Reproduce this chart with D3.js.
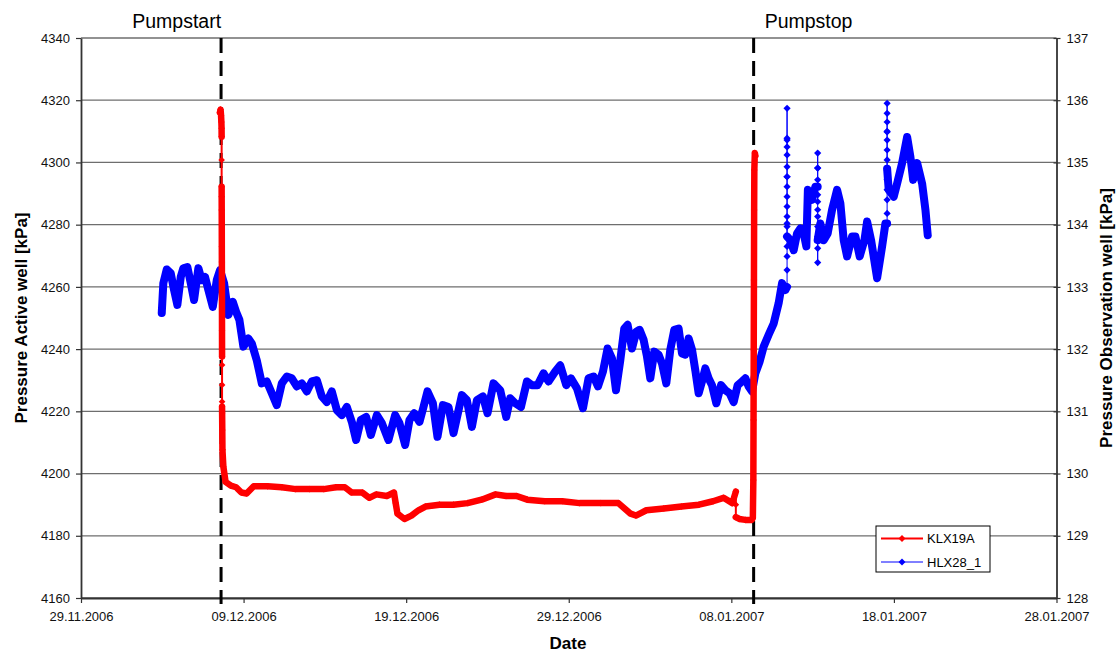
<!DOCTYPE html>
<html>
<head>
<meta charset="utf-8">
<script src="https://cdn.jsdelivr.net/npm/d3@7"></script>
<style>
  body { margin: 0; background: #fff; }
  text { font-family: "Liberation Sans", Arial, sans-serif; }
</style>
</head>
<body>
<div id="chart"></div>
<script>
// x values are days after 29.11.2006 00:00
const startDate = new Date(2006, 10, 29);
const dateTicks = ["29.11.2006", "09.12.2006", "19.12.2006", "29.12.2006", "08.01.2007", "18.01.2007", "28.01.2007"];
const activeTicks = [4160, 4180, 4200, 4220, 4240, 4260, 4280, 4300, 4320, 4340];
const obsTicks = [128, 129, 130, 131, 132, 133, 134, 135, 136, 137];

const pumpStartDay = 8.615;
const pumpStopDay = 41.372;

// HLX28_1 (observation well, right axis)
const hlxDays = [
  4.966, 5.065, 5.274, 5.52, 5.723, 5.926, 6.135, 6.295, 6.542, 6.751,
  6.954, 7.218, 7.428, 7.631, 7.834, 8.105, 8.351, 8.554, 8.8, 9.065,
  9.335, 9.538, 9.742, 9.988, 10.295, 10.505, 10.812, 11.12, 11.428, 11.735,
  12.043, 12.351, 12.658, 12.966, 13.274, 13.582, 13.889, 14.197, 14.505, 14.812,
  15.12, 15.428, 15.735, 16.043, 16.351, 16.658, 16.923, 17.212, 17.538, 17.828,
  18.197, 18.505, 18.911, 19.323, 19.588, 19.938, 20.203, 20.492, 20.818, 21.065,
  21.311, 21.643, 21.926, 22.258, 22.603, 22.911, 23.428, 23.735, 24.043, 24.351,
  24.72, 25.003, 25.372, 25.785, 26.154, 26.4, 26.708, 27.058, 27.428, 27.735,
  28.08, 28.449, 28.757, 29.169, 29.477, 29.846, 30.135, 30.505, 30.874, 31.218,
  31.526, 31.797, 32.105, 32.388, 32.658, 32.905, 33.169, 33.415, 33.618, 33.889,
  34.154, 34.357, 34.603, 34.812, 35.015, 35.262, 35.526, 35.735, 36.0, 36.246,
  36.492, 36.757, 36.966, 37.169, 37.372, 37.582, 37.785, 37.988, 38.197, 38.4,
  38.603, 38.812, 39.077, 39.366, 39.631, 39.895, 40.142, 40.388, 40.658, 40.862,
  41.065, 41.274, 41.477, 41.742, 41.988, 42.295, 42.603, 42.911, 43.12, 43.323,
  43.428, 43.428, 43.428, 43.428, 43.428, 43.428, 43.428, 43.428, 43.428, 43.428,
  43.428, 43.428, 43.428, 43.428, 43.428, 43.428, 43.428, 43.428, 43.428, 43.428,
  43.631, 43.834, 44.043, 44.246, 44.449, 44.615, 44.646, 44.708, 44.966, 45.169,
  45.311, 45.311, 45.311, 45.311, 45.311, 45.311, 45.311, 45.311, 45.311, 45.311,
  45.311, 45.311, 45.311, 45.311,
  45.477, 45.68, 45.926, 46.197, 46.505, 46.708, 46.911, 47.12, 47.428, 47.631,
  47.895, 48.185, 48.351, 48.597, 48.966, 49.274, 49.477,
  49.582, 49.582, 49.582, 49.582, 49.582, 49.582, 49.582, 49.582, 49.582, 49.582,
  49.582, 49.582, 49.582, 49.582, 49.582,
  49.68, 49.988, 50.197, 50.505, 50.812, 51.015, 51.182, 51.428, 51.735, 51.938, 52.08
];
const hlxKPa = [
  132.58, 133.06, 133.28, 133.22, 132.95, 132.71, 133.16, 133.30, 133.32, 133.06,
  132.79, 133.30, 133.11, 133.16, 132.95, 132.68, 133.11, 133.27, 133.06, 132.55,
  132.76, 132.60, 132.47, 132.04, 132.17, 132.09, 131.82, 131.45, 131.48, 131.29,
  131.10, 131.45, 131.56, 131.53, 131.40, 131.45, 131.32, 131.48, 131.50, 131.24,
  131.15, 131.32, 131.02, 130.94, 131.07, 130.83, 130.54, 130.86, 130.91, 130.62,
  130.94, 130.81, 130.54, 130.94, 130.81, 130.46, 130.86, 130.97, 130.83, 131.07,
  131.32, 131.13, 130.59, 131.10, 131.07, 130.65, 131.26, 131.18, 130.75, 131.18,
  131.24, 130.97, 131.45, 131.34, 130.91, 131.21, 131.13, 131.07, 131.48, 131.42,
  131.42, 131.61, 131.48, 131.64, 131.74, 131.42, 131.53, 131.37, 131.05, 131.53,
  131.56, 131.40, 131.64, 132.01, 131.85, 131.34, 131.82, 132.33, 132.39, 132.01,
  132.28, 132.31, 132.15, 131.88, 131.53, 131.96, 131.91, 131.77, 131.45, 131.99,
  132.31, 132.33, 131.93, 131.91, 132.17, 131.99, 131.66, 131.29, 131.48, 131.69,
  131.53, 131.42, 131.13, 131.42, 131.34, 131.29, 131.15, 131.42, 131.48, 131.53,
  131.40, 131.32, 131.61, 131.80, 132.04, 132.23, 132.41, 132.74, 133.06, 132.95,
  133.00, 133.27, 133.49, 133.65, 133.81, 133.97, 134.13, 134.29, 134.45, 134.61,
  134.77, 134.93, 135.12, 135.25, 135.39, 135.87, 135.36, 134.77, 134.02, 133.81,
  133.75, 133.59, 133.86, 133.94, 133.86, 133.65, 133.97, 134.56, 134.40, 134.61,
  134.61, 134.91, 135.15, 134.91, 134.72, 134.48, 134.37, 134.24, 134.13, 133.97,
  133.81, 133.62, 133.39, 133.75,
  134.02, 133.75, 133.86, 134.24, 134.56, 134.34, 133.75, 133.49, 133.81, 133.81,
  133.49, 133.75, 134.05, 133.75, 133.14, 133.65, 134.02,
  134.02, 134.18, 134.40, 134.56, 134.72, 134.88, 135.04, 135.20, 135.36, 135.49,
  135.65, 135.79, 135.95, 135.50, 134.90,
  134.56, 134.45, 134.66, 134.99, 135.41, 135.09, 134.72, 134.99, 134.66, 134.24, 133.83
];

// KLX19A (active well, left axis)
const klxDays = [
  8.542, 8.585, 8.615, 8.634, 8.646, 8.65, 8.65, 8.65,
  8.652, 8.655, 8.658, 8.661, 8.664, 8.667, 8.670, 8.673,
  8.676, 8.676, 8.676, 8.676, 8.676,
  8.68, 8.69, 8.70, 8.757, 8.892, 9.218, 9.538, 9.865, 10.185, 10.622,
  11.483, 12.345, 13.206, 14.068, 14.935, 15.686, 16.228, 16.658, 17.305, 17.735,
  18.166, 18.812, 19.249, 19.354, 19.465, 19.895, 20.326, 20.757, 21.188, 22.049,
  22.911, 23.778, 24.64, 25.502, 26.148, 26.794, 27.446, 28.523, 29.6, 30.677,
  31.975, 33.052, 33.803, 34.129, 34.775, 35.852, 36.935, 38.012, 38.874, 39.52,
  40.062, 40.277, 40.277, 40.277, 40.492, 40.862, 41.249,
  41.323, 41.354, 41.366, 41.378, 41.391, 41.403, 41.415, 41.446, 41.477
];
const klxKPa = [
  4316, 4317, 4315, 4313, 4311, 4308.3, 4300.8, 4292.2,
  4289, 4284.7, 4280, 4272.9, 4268, 4263.2, 4255.8, 4246.1,
  4237.6, 4234.9, 4228.5, 4223.1, 4221.5,
  4219.5, 4214, 4207.6, 4202.2, 4197.3, 4196.1, 4195.6, 4193.9, 4193.6, 4195.9,
  4195.9, 4195.6, 4195.0, 4195.0, 4195.0, 4195.6, 4195.6, 4193.9, 4193.9, 4192.2,
  4193.3, 4192.8, 4193.9, 4190.5, 4187.1, 4185.4, 4186.5, 4188.2, 4189.4, 4190.0,
  4190.0, 4190.5, 4191.6, 4193.3, 4192.8, 4192.8, 4191.6, 4191.1, 4191.1, 4190.5,
  4190.5, 4190.5, 4187.1, 4186.5, 4188.2, 4188.8, 4189.4, 4190.0, 4191.1, 4192.2,
  4190.5, 4194.2, 4190.0, 4186.0, 4185.4, 4185.1, 4185.1,
  4185.7, 4197.9, 4217.2, 4239.7, 4262.2, 4284.7, 4297.6, 4303.0, 4302.1
];

const width = 1119, height = 654;
const plotL = 81, plotR = 1056.5, plotT = 38, plotB = 598;

const toDate = d => new Date(+startDate + d * 864e5);
const parseDay = d3.timeParse("%d.%m.%Y");

const x = d3.scaleTime()
  .domain([parseDay(dateTicks[0]), parseDay(dateTicks[dateTicks.length - 1])])
  .range([plotL, plotR]);
const yL = d3.scaleLinear().domain([4160, 4340]).range([plotB, plotT]);
const yR = d3.scaleLinear().domain([128, 137]).range([plotB, plotT]);

const svg = d3.select("#chart").append("svg")
  .attr("width", width)
  .attr("height", height);

svg.append("rect").attr("width", width).attr("height", height).attr("fill", "#fff");

// grid
svg.append("g")
  .selectAll("line")
  .data(activeTicks)
  .join("line")
  .attr("x1", plotL).attr("x2", plotR)
  .attr("y1", d => yL(d)).attr("y2", d => yL(d))
  .attr("stroke", "#6e6e6e")
  .attr("stroke-width", 1.3);

// axes
const leftAxis = svg.append("g")
  .attr("transform", `translate(${plotL},0)`)
  .call(d3.axisLeft(yL).tickValues(activeTicks).tickFormat(d3.format("d"))
    .tickSize(5).tickSizeOuter(0).tickPadding(6));

const rightAxis = svg.append("g")
  .attr("transform", `translate(${plotR},0)`)
  .call(d3.axisRight(yR).tickValues(obsTicks).tickFormat(d3.format("d"))
    .tickSize(4).tickSizeOuter(0).tickPadding(6));
rightAxis.selectAll(".tick line").attr("x1", -3);

const bottomAxis = svg.append("g")
  .attr("transform", `translate(0,${plotB})`)
  .call(d3.axisBottom(x)
    .tickValues(dateTicks.map(parseDay))
    .tickFormat(d3.timeFormat("%d.%m.%Y"))
    .tickSize(5).tickSizeOuter(0).tickPadding(9));

[leftAxis, rightAxis, bottomAxis].forEach(g => {
  g.select(".domain").attr("stroke", "#333").attr("stroke-width", 1.8);
  g.selectAll(".tick line").attr("stroke", "#333").attr("stroke-width", 1.2);
  g.selectAll(".tick text")
    .style("font-size", "13px")
    .style("font-family", "'Liberation Sans', Arial, sans-serif")
    .attr("fill", "#111");
});

const diamond = {
  draw(ctx, size) {
    const r = Math.sqrt(size / 2);
    ctx.moveTo(0, -r);
    ctx.lineTo(r, 0);
    ctx.lineTo(0, r);
    ctx.lineTo(-r, 0);
    ctx.closePath();
  }
};

// thick band where samples are dense (time advances), thin where a sample jumps at one instant
const bandPath = (days, vals, y) => {
  const p = d3.path();
  let open = false;
  for (let i = 1; i < days.length; i++) {
    if (days[i] !== days[i - 1]) {
      if (!open) p.moveTo(x(toDate(days[i - 1])), y(vals[i - 1]));
      p.lineTo(x(toDate(days[i])), y(vals[i]));
      open = true;
    } else {
      open = false;
    }
  }
  return p.toString();
};

const drawSeries = (days, vals, y, color, band, lineW, markSize) => {
  const g = svg.append("g");
  g.append("path")
    .attr("d", bandPath(days, vals, y))
    .attr("fill", "none")
    .attr("stroke", color)
    .attr("stroke-width", band)
    .attr("stroke-linejoin", "round")
    .attr("stroke-linecap", "round");
  const line = d3.line()
    .x((d, i) => x(toDate(days[i])))
    .y(d => y(d));
  g.append("path")
    .attr("d", line(vals))
    .attr("fill", "none")
    .attr("stroke", color)
    .attr("stroke-width", lineW);
  g.selectAll("path.mk")
    .data(vals)
    .join("path")
    .attr("class", "mk")
    .attr("transform", (d, i) => `translate(${x(toDate(days[i]))},${y(d)})`)
    .attr("d", d3.symbol().type(diamond).size(markSize))
    .attr("fill", color);
};

drawSeries(hlxDays, hlxKPa, yR, "#0000ff", 8, 1, 26);

// pump start / stop markers
const events = [
  { day: pumpStartDay, label: "Pumpstart", anchor: "end", dx: 0 },
  { day: pumpStopDay, label: "Pumpstop", anchor: "start", dx: 11 }
];
svg.append("g")
  .selectAll("line")
  .data(events)
  .join("line")
  .attr("x1", d => x(toDate(d.day))).attr("x2", d => x(toDate(d.day)))
  .attr("y1", plotT).attr("y2", plotB + 6)
  .attr("stroke", "#000")
  .attr("stroke-width", 3)
  .attr("stroke-dasharray", "15,8");

svg.append("g")
  .selectAll("text")
  .data(events)
  .join("text")
  .attr("x", d => x(toDate(d.day)) + d.dx)
  .attr("y", 28)
  .attr("text-anchor", d => d.anchor)
  .style("font-size", "19.5px")
  .text(d => d.label);

drawSeries(klxDays, klxKPa, yL, "#ff0000", 6.5, 2, 22);

// axis titles
svg.append("text")
  .attr("transform", `translate(27,${(plotT + plotB) / 2}) rotate(-90)`)
  .attr("text-anchor", "middle")
  .style("font-size", "17px")
  .style("font-weight", "bold")
  .text("Pressure Active well [kPa]");

svg.append("text")
  .attr("transform", `translate(1112,${(plotT + plotB) / 2}) rotate(-90)`)
  .attr("text-anchor", "middle")
  .style("font-size", "17px")
  .style("font-weight", "bold")
  .text("Pressure Observation well [kPa]");

svg.append("text")
  .attr("x", 568)
  .attr("y", 649)
  .attr("text-anchor", "middle")
  .style("font-size", "17px")
  .style("font-weight", "bold")
  .text("Date");

// legend
const legendItems = [
  { name: "KLX19A", color: "#ff0000", w: 2 },
  { name: "HLX28_1", color: "#0000ff", w: 1 }
];
const lg = svg.append("g").attr("transform", "translate(876,526)");
lg.append("rect")
  .attr("width", 114).attr("height", 46)
  .attr("fill", "#fff").attr("stroke", "#000").attr("stroke-width", 1);
const li = lg.selectAll("g.item")
  .data(legendItems)
  .join("g")
  .attr("class", "item")
  .attr("transform", (d, i) => `translate(0,${12.5 + i * 23.5})`);
li.append("line")
  .attr("x1", 5).attr("x2", 47)
  .attr("stroke", d => d.color).attr("stroke-width", d => d.w);
li.append("path")
  .attr("transform", "translate(26,0)")
  .attr("d", d3.symbol().type(diamond).size(24))
  .attr("fill", d => d.color);
li.append("text")
  .attr("x", 51).attr("y", 4.5)
  .style("font-size", "13px")
  .text(d => d.name);
</script>
</body>
</html>
